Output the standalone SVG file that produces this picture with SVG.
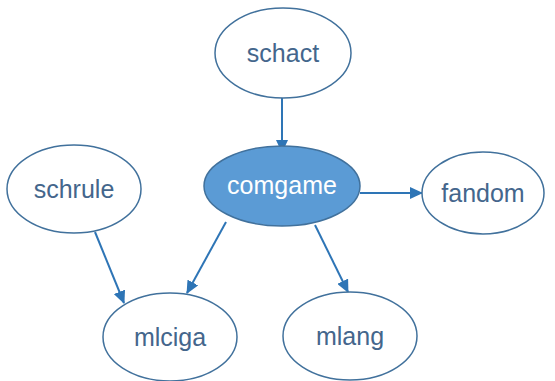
<svg xmlns="http://www.w3.org/2000/svg" width="555" height="381" viewBox="0 0 555 381">
<defs>
<marker id="ah" markerWidth="13" markerHeight="12" refX="12" refY="6" orient="auto" markerUnits="userSpaceOnUse" viewBox="0 0 13 12">
<path d="M0,0 L13,6 L0,12 z" fill="#2E75B6"/>
</marker>
<style>
.n{fill:#fff;stroke:#41719C;stroke-width:1.5}
.f{fill:#5B9BD5;stroke:#41719C;stroke-width:1.5}
.t{font-family:"Liberation Sans",Arial,sans-serif;font-size:25px;fill:#44668C;text-anchor:middle;dominant-baseline:central}
.tw{fill:#fff}
.e{stroke:#2E75B6;stroke-width:2;fill:none;marker-end:url(#ah)}
</style>
</defs>
<rect width="555" height="381" fill="#fff"/>
<g id="connectors">
<line class="e" x1="282" y1="98" x2="282" y2="152"/>
<line class="e" x1="360" y1="193" x2="422" y2="193"/>
<line class="e" x1="95" y1="232" x2="124" y2="303"/>
<line class="e" x1="226" y1="222" x2="187" y2="293"/>
<line class="e" x1="315" y1="225" x2="348" y2="292"/>
</g>
<g id="schact"><ellipse class="n" cx="283" cy="53" rx="68" ry="45"/><text class="t" x="283" y="53">schact</text></g>
<g id="comgame"><ellipse class="f" cx="282" cy="186" rx="78" ry="40"/><text class="t tw" x="282" y="185">comgame</text></g>
<g id="schrule"><ellipse class="n" cx="74" cy="189" rx="67" ry="44"/><text class="t" x="74" y="189">schrule</text></g>
<g id="fandom"><ellipse class="n" cx="483" cy="193" rx="61" ry="41"/><text class="t" x="483" y="193">fandom</text></g>
<g id="mlciga"><ellipse class="n" cx="170" cy="337" rx="67" ry="44"/><text class="t" x="170" y="337">mlciga</text></g>
<g id="mlang"><ellipse class="n" cx="350" cy="336" rx="67" ry="44"/><text class="t" x="350" y="336">mlang</text></g>
</svg>
